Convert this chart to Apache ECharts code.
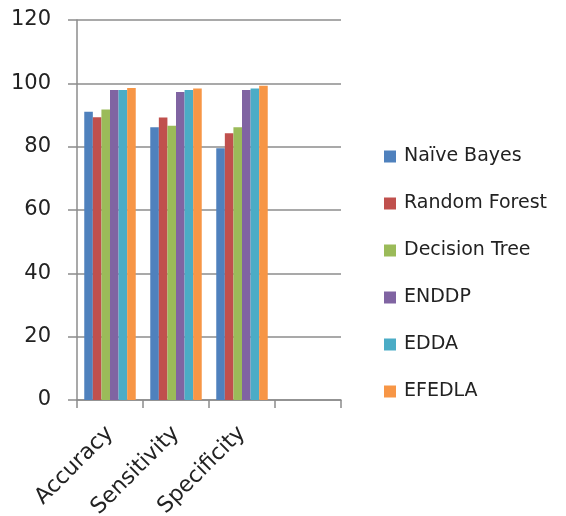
<!DOCTYPE html>
<html>
<head>
<meta charset="utf-8">
<script src="https://cdn.jsdelivr.net/npm/echarts@6/dist/echarts.min.js"></script>
<style>
  html, body { margin: 0; padding: 0; background: #fff; }
  #chart { width: 566px; height: 516px; }
</style>
</head>
<body>
<div id="chart"></div>
<script>
// Metrics on the x axis (the trailing blank slot keeps an empty category)
const categories = ['Accuracy', 'Sensitivity', 'Specificity', ''];

// Classifier names and their scores (%)
const seriesNames = ['Naïve Bayes', 'Random Forest', 'Decision Tree', 'ENDDP', 'EDDA', 'EFEDLA'];
const naiveBayes   = [91.0, 86.1, 79.5];
const randomForest = [89.3, 89.2, 84.2];
const decisionTree = [91.7, 86.6, 86.1];
const enddp        = [97.9, 97.3, 97.9];
const edda         = [97.9, 97.9, 98.4];
const efedla       = [98.5, 98.4, 99.2];

const yTicks = { min: 0, max: 120, interval: 20 };

const palette = ['#4F81BD', '#C0504D', '#9BBB59', '#8064A2', '#4BACC6', '#F79646'];
const allValues = [naiveBayes, randomForest, decisionTree, enddp, edda, efedla];

const chart = echarts.init(document.getElementById('chart'));
const axisGray = '#8c8c8c';
const font = 'DejaVu Sans';
const textColor = '#222';

chart.setOption({
  animation: false,
  color: palette,
  textStyle: { fontFamily: font },
  grid: { left: 77, right: 225, top: 20, bottom: 116, containLabel: false, outerBoundsMode: 'none' },
  legend: {
    orient: 'vertical',
    left: 379,
    top: 142,
    itemWidth: 12,
    itemHeight: 12,
    itemGap: 28,
    icon: 'rect',
    data: seriesNames,
    textStyle: { fontSize: 19, color: textColor, fontFamily: font, padding: [0, 0, 0, 3] }
  },
  xAxis: {
    type: 'category',
    data: categories,
    boundaryGap: true,
    axisLine: { lineStyle: { color: axisGray, width: 1.5 } },
    axisTick: { show: true, length: 8, lineStyle: { color: axisGray, width: 1.5 } },
    axisLabel: { rotate: 45, fontSize: 22, fontFamily: font, color: textColor, margin: 30, interval: 0 }
  },
  yAxis: {
    type: 'value',
    min: yTicks.min,
    max: yTicks.max,
    interval: yTicks.interval,
    axisLine: { show: true, lineStyle: { color: axisGray, width: 1.5 } },
    axisTick: { show: true, length: 9, lineStyle: { color: axisGray, width: 1.5 } },
    axisLabel: { fontSize: 21, fontFamily: font, color: textColor, margin: 26 },
    splitLine: { lineStyle: { color: axisGray, width: 1.5 } }
  },
  series: seriesNames.map((name, i) => ({
    name,
    type: 'bar',
    data: allValues[i],
    barGap: '0%',
    barCategoryGap: '22%',
    itemStyle: { color: palette[i] }
  }))
});
</script>
</body>
</html>
